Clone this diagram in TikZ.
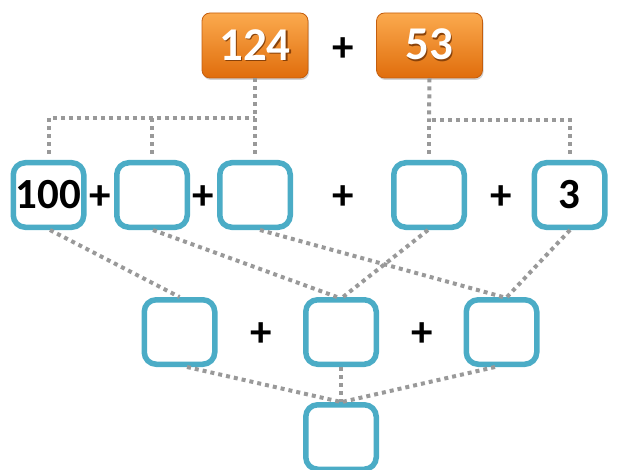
\documentclass[tikz,border=0pt]{standalone}
\usepackage{fontspec}
\setmainfont{Carlito}
\usepackage{xcolor}
\usetikzlibrary{calc,shadows}
\definecolor{boxblue}{HTML}{4BACC6}
\definecolor{linkgray}{HTML}{999999}
\definecolor{orangetop}{HTML}{FBAA4E}
\definecolor{orangebot}{HTML}{E06D0C}
\definecolor{orangeedge}{HTML}{C45E0E}
\newcommand{\bignum}{\bfseries\fontsize{43}{47}\selectfont}
\newcommand{\shadenum}[1]{%
  \makebox[0pt][l]{\hspace{1.2pt}\raisebox{-1.5pt}{\textcolor{orangeedge!70!black}{#1}}}%
  \textcolor{white}{#1}}
\tikzset{
    numbox/.style={
        draw=boxblue,
        line width=5.5pt,
        rounded corners=12pt,
        fill=white,
        minimum width=70.5pt,
        minimum height=64.5pt,
        inner sep=0pt,
        font=\bignum
    },
    givenbox/.style={
        draw=orangeedge,
        line width=0.8pt,
        rounded corners=8pt,
        top color=orangetop,
        bottom color=orangebot,
        minimum width=106pt,
        minimum height=65pt,
        inner sep=0pt,
        drop shadow={opacity=0.35, shadow xshift=1pt, shadow yshift=-2pt},
        font=\bfseries\fontsize{47}{51}\selectfont
    },
    plus/.style={font=\bignum, inner sep=0pt},
    link/.style={
        draw=linkgray,
        line width=4pt,
        dash pattern=on 4pt off 4pt
    }
}

\begin{document}
\begin{tikzpicture}[x=1pt, y=-1pt]
  \useasboundingbox (0,0) rectangle (617,470);

  % The two given numbers
  \node[givenbox] (o124) at (255,45.5) {\shadenum{124}};
  \node[plus] (p0) at (343,50) {+};
  \node[givenbox] (o53) at (429.5,45.5) {\shadenum{53}};

  % Split into place values
  \node[numbox] (n1) at (48.5,195) {100};
  \node[plus] (p1) at (100,198) {+};
  \node[numbox] (n2) at (152,195) {};
  \node[plus] (p2) at (203,198) {+};
  \node[numbox] (n3) at (255,195) {};
  \node[plus] (p3) at (343,198) {+};
  \node[numbox] (n4) at (429,195) {};
  \node[plus] (p4) at (501,198) {+};
  \node[numbox] (n5) at (569.5,195) {3};

  % Sums of equal place values
  \node[numbox] (a1) at (179.5,332) {};
  \node[plus] (p5) at (261,335) {+};
  \node[numbox] (a2) at (341,332) {};
  \node[plus] (p6) at (422,335) {+};
  \node[numbox] (a3) at (501.5,332) {};

  % Total
  \node[numbox] (tot) at (341,437) {};

  % Brackets from the given numbers
  \coordinate (barL) at (255,118);
  \coordinate (barR) at (429,120);
  \draw[link] (o124.south) -- (barL);
  \draw[link, shorten <=6pt] (n1.north) |- (barL);
  \draw[link, shorten <=6pt] (n2.north) -- (n2.north |- barL);
  \draw[link, shorten <=6pt] (n3.north) -- (barL);
  \draw[link] (o53.south) -- (barR);
  \draw[link, shorten <=6pt] (n4.north) -- (barR);
  \draw[link, shorten <=6pt] (n5.north) |- (barR);

  % Grouping the place values
  \draw[link] ([xshift=1.5pt]n1.south) -- (a1.north);
  \draw[link] ([xshift=1pt]n2.south) -- ([xshift=-4pt]a2.north);
  \draw[link] ([xshift=5pt]n3.south) -- ([xshift=1.5pt]a3.north);
  \draw[link] ([xshift=-1pt]n4.south) -- ([xshift=2pt]a2.north);
  \draw[link] ([xshift=0.5pt]n5.south) -- ([xshift=5.5pt]a3.north);

  % Adding up
  \draw[link] ([xshift=7.5pt]a1.south) -- (tot.north);
  \draw[link] (a2.south) -- (tot.north);
  \draw[link] ([xshift=-6.5pt]a3.south) -- ([xshift=1pt]tot.north);
\end{tikzpicture}
\end{document}
